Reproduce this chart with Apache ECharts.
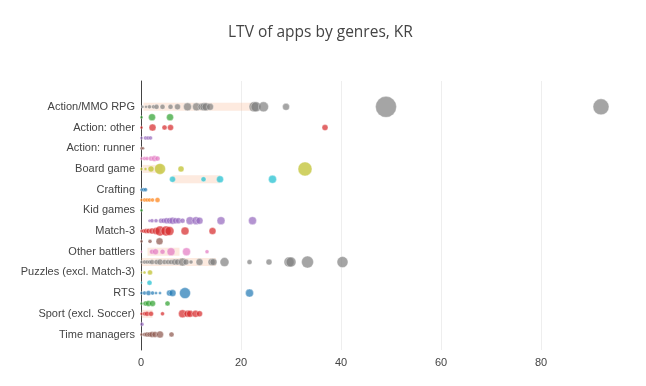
<!DOCTYPE html>
<html>
<head>
<meta charset="utf-8">
<script src="https://cdn.jsdelivr.net/npm/echarts@6/dist/echarts.min.js"></script>
<style>html,body{margin:0;padding:0;background:#fff}#c{width:646px;height:386px}</style>
</head>
<body>
<div id="c"></div>
<script>
// Labelled genres (every other row carries a label, as in the reference)
const genres = ['Action/MMO RPG','Action: other','Action: runner','Board game','Crafting','Kid games','Match-3','Other battlers','Puzzles (excl. Match-3)','RTS','Sport (excl. Soccer)','Time managers'];
const xTicks = [0, 20, 40, 60, 80];

// LTV values per row (row 0 at top)
const ltv = [
  [0.3,1,1.7,2.5,3.1,4.3,5.9,7.3,9.3,11.1,12.1,12.6,13,13.8,22.6,23,24.5,29,49,92],
  [0.1,2.2,5.8],
  [0.1,2.3,4.7,5.9,36.8],
  [0.1,0.9,1.4,1.9],
  [0.1,0.4],
  [0.1,0.7,1.2,2,2.7,3.3],
  [0.1,0.9,2,3.8,8,32.8],
  [6.3,12.5,15.8,26.3],
  [0.1,0.5,0.9],
  [0.1,0.7,1.2,1.7,2.3,3.3],
  [0.1],
  [1.7,2.2,3,4,4.5,5.1,5.7,6.3,6.9,7.5,8.3,9.8,11,11.7,16,22.3],
  [0.1,0.5,1,1.5,2.2,3,3.8,5,5.7,8.8,14.3],
  [0.1,1.8,3.7],
  [0.1,2.2,2.9,4.3,6,9.1,13.2],
  [0.1,0.7,1.2,1.7,2.2,3.1,3.8,4.7,5.4,6,6.7,7.3,8.3,9,10,11.7,14.1,14.5,16.7,21.7,25.6,29.6,30,33.3,40.3],
  [0.1,0.7,1.8],
  [0.1,1.7],
  [0.1,0.7,1.5,2.3,3,3.8,5.7,6.3,8.8,21.7],
  [0.1,0.9,1.5,2.3,5.3],
  [0.1,0.7,1.2,2,4.3,8.3,9.3,9.8,10.9,11.7],
  [0.2],
  [0.1,0.7,1.2,1.7,2.2,2.8,3.8,6.1]
];
// Bubble magnitude per point
const weight = [
  [3,3,4,4,5,5,5,6,8,8,7,8,8,7,10,10,10,7,21,16],
  [3,7,7],
  [3,7,5,6,6],
  [3,4,4,4],
  [3,3],
  [3,4,4,5,6,5],
  [3,3,6,11,6,14],
  [6,5,7,8],
  [3,4,4],
  [3,4,4,4,4,5],
  [3],
  [3,4,4,5,5,6,6,7,6,6,5,8,8,7,8,8],
  [3,4,5,5,6,7,10,10,9,8,7],
  [3,4,7],
  [2,5,6,5,8,8,4],
  [3,4,4,4,5,5,6,5,5,5,6,6,8,6,4,7,7,7,9,5,6,10,10,12,11],
  [2,3,5],
  [2,5],
  [3,4,5,4,3,3,6,7,11,8],
  [3,5,6,6,5],
  [3,4,5,5,4,8,7,7,7,6],
  [4],
  [3,4,5,5,6,6,7,5]
];
// Range bands: [row, low, high]
const bandRow  = [0, 6, 7, 14, 15, 20];
const bandLow  = [0.5, 0.3, 6.3, 1.3, 0.1, 0.1];
const bandHigh = [22.6, 4.3, 15.8, 7.7, 15, 2.3];

const palette = ['#7f7f7f','#2ca02c','#d62728','#9467bd','#8c564b','#e377c2','#bcbd22','#17becf','#1f77b4','#ff7f0e','#2ca02c','#9467bd','#d62728','#8c564b','#e377c2','#7f7f7f','#bcbd22','#17becf','#1f77b4','#2ca02c','#d62728','#9467bd','#8c564b'];

const series = [{
  type: 'custom',
  z: 1,
  silent: true,
  encode: { x: [1, 2], y: 0 },
  data: bandRow.map((r, i) => [r, bandLow[i], bandHigh[i]]),
  renderItem: function (params, api) {
    const a = api.coord([api.value(1), api.value(0)]);
    const b = api.coord([api.value(2), api.value(0)]);
    return { type: 'rect', shape: { x: a[0], y: a[1] - 4, width: b[0] - a[0], height: 8 },
      style: { fill: 'rgba(247,180,140,0.28)' } };
  }
}];
ltv.forEach((xs, r) => {
  series.push({
    type: 'scatter',
    z: 3,
    data: xs.map((x, i) => [x, r, weight[r][i]]),
    symbolSize: d => d[2],
    itemStyle: { color: palette[r], opacity: 0.7, borderColor: '#fff', borderWidth: 0.5 }
  });
});

const chart = echarts.init(document.getElementById('c'), null, { renderer: 'canvas' });
chart.setOption({
  animation: false,
  title: {
    text: 'LTV of apps by genres, KR',
    left: 223, top: 20,
    textStyle: { fontFamily: 'Open Sans', fontSize: 15.5, fontWeight: 'normal', color: '#444' }
  },
  grid: { left: 141, right: 25, top: 81, bottom: 36, containLabel: false },
  xAxis: {
    type: 'value', min: 0, max: 96, interval: 20,
    axisLine: { show: false }, axisTick: { show: false },
    axisLabel: { color: '#444', fontFamily: 'Liberation Sans', fontSize: 11, margin: 7, showMaxLabel: false,
      formatter: v => xTicks.indexOf(v) >= 0 ? String(v) : '' },
    splitLine: { show: true, showMinLine: false, showMaxLine: false, lineStyle: { color: '#eeeeee', width: 1 } }
  },
  yAxis: {
    type: 'value', inverse: true, min: -2.5, max: 23.5, interval: 0.5,
    axisLine: { show: true, onZero: false, lineStyle: { color: '#444', width: 1 } },
    axisTick: { show: false },
    splitLine: { show: false },
    axisLabel: {
      color: '#444', fontFamily: 'Liberation Sans', fontSize: 11, margin: 6,
      formatter: v => (Number.isInteger(v) && v % 2 === 0 && v >= 0 && v <= 22) ? genres[v / 2] : ''
    }
  },
  series: series
});
</script>
</body>
</html>
